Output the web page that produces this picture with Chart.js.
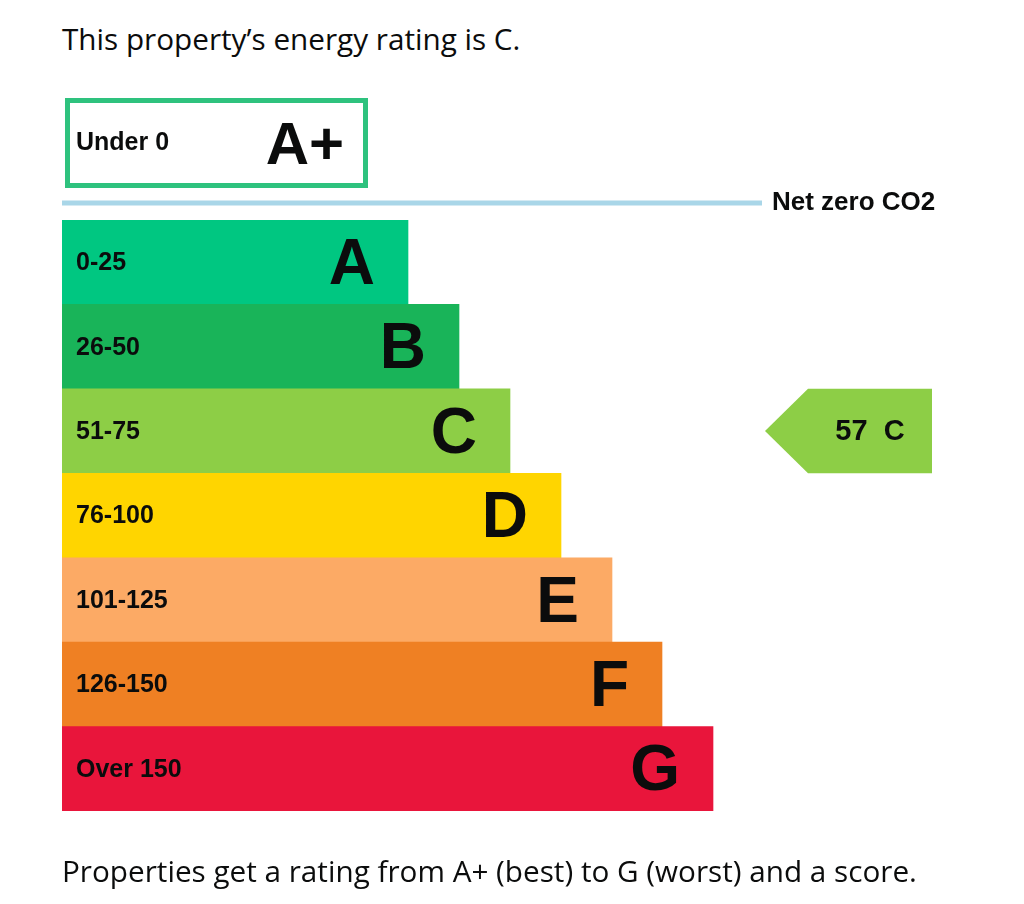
<!DOCTYPE html>
<html>
<head>
<meta charset="utf-8">
<script src="https://cdn.jsdelivr.net/npm/chart.js@4"></script>
<style>
  body { margin: 0; background: #fff; width: 1024px; height: 904px; position: relative; overflow: hidden; }
  .txt { position: absolute; left: 62px; font-family: "Open Sans", sans-serif; font-size: 29.7px; color: #0b0c0c; white-space: nowrap; }
  #chart-wrap { position: absolute; left: 0; top: 0; width: 1024px; height: 904px; }
</style>
</head>
<body>
<div class="txt" style="top:18px;">This property’s energy rating is C.</div>
<div id="chart-wrap"><canvas id="epc"></canvas></div>
<div class="txt" style="top:850px;">Properties get a rating from A+ (best) to G (worst) and a score.</div>
<script>
document.addEventListener('DOMContentLoaded', () => {
    // Bandas y datos
    const bandas = ['A', 'B', 'C', 'D', 'E', 'F', 'G'];
    const rangos = ['0-25', '26-50', '51-75', '76-100', '101-125', '126-150', 'Over 150'];
    const longitudes = [346, 397, 448, 499, 550, 600, 651];
    const colores = ['#00c781', '#19b459', '#8dce46', '#ffd500', '#fcaa65', '#ef8023', '#e9153b'];
    const aPlus = { etiqueta: 'A+', rango: 'Under 0', desde: 3, hasta: 306 };
    const netZero = { etiqueta: 'Net zero CO2', hasta: 700 };
    const actual = { puntos: 57, banda: 'C', desde: 703, hasta: 870 };
    const X_MAX = 870;

    const epcPlugin = {
        id: 'epc',
        afterDatasetsDraw(chart) {
            const { ctx, scales: { x, y }, chartArea } = chart;
            ctx.save();
            const font = (s) => `bold ${s}px "Liberation Sans", Arial, sans-serif`;
            const h = y.getPixelForValue(1) - y.getPixelForValue(0);

            // etiquetas de barras
            ctx.fillStyle = '#0b0c0c';
            bandas.forEach((b, i) => {
                const cy = y.getPixelForValue(i);
                ctx.textBaseline = 'middle';
                ctx.font = font(25);
                ctx.textAlign = 'left';
                ctx.fillText(rangos[i], chartArea.left + 14, cy + 1);
                ctx.font = font(64);
                ctx.textAlign = 'right';
                ctx.fillText(b, x.getPixelForValue(longitudes[i]) - 33, cy + 4);
            });

            // caja A+
            const top = chartArea.top - 122, bh = 90;
            const x0 = x.getPixelForValue(aPlus.desde), x1 = x.getPixelForValue(aPlus.hasta);
            ctx.strokeStyle = '#2ec27e';
            ctx.lineWidth = 5;
            ctx.strokeRect(x0 + 2.5, top + 2.5, x1 - x0 - 5, bh - 5);
            ctx.textBaseline = 'middle';
            ctx.font = font(25);
            ctx.textAlign = 'left';
            ctx.fillText(aPlus.rango, chartArea.left + 14, top + bh / 2);
            ctx.font = font(60);
            ctx.textAlign = 'right';
            ctx.fillText(aPlus.etiqueta, x1 - 24, top + bh / 2 + 4);

            // línea net zero
            const ly = chartArea.top - 17;
            ctx.strokeStyle = '#a9d6e8';
            ctx.lineWidth = 5;
            ctx.beginPath();
            ctx.moveTo(chartArea.left, ly);
            ctx.lineTo(x.getPixelForValue(netZero.hasta), ly);
            ctx.stroke();
            ctx.font = font(26);
            ctx.textAlign = 'left';
            ctx.fillText(netZero.etiqueta, x.getPixelForValue(netZero.hasta) + 10, ly);

            // flecha con la puntuación actual
            const idx = bandas.indexOf(actual.banda);
            const cy = y.getPixelForValue(idx);
            const ax0 = x.getPixelForValue(actual.desde), ax1 = x.getPixelForValue(actual.hasta);
            ctx.fillStyle = colores[idx];
            ctx.beginPath();
            ctx.moveTo(ax0, cy);
            ctx.lineTo(ax0 + 43, cy - h / 2);
            ctx.lineTo(ax1, cy - h / 2);
            ctx.lineTo(ax1, cy + h / 2);
            ctx.lineTo(ax0 + 43, cy + h / 2);
            ctx.closePath();
            ctx.fill();
            ctx.fillStyle = '#0b0c0c';
            ctx.font = font(29);
            ctx.textAlign = 'center';
            ctx.fillText(`${actual.puntos}  ${actual.banda}`, (ax0 + 43 + ax1) / 2, cy + 1);
            ctx.restore();
        }
    };

    new Chart(document.getElementById('epc'), {
        type: 'bar',
        data: {
            labels: bandas,
            datasets: [{ data: longitudes, backgroundColor: colores, categoryPercentage: 1, barPercentage: 1, borderWidth: 0 }]
        },
        options: {
            indexAxis: 'y',
            responsive: true,
            maintainAspectRatio: false,
            animation: false,
            layout: { padding: { top: 220, left: 62, bottom: 93, right: 92 } },
            scales: {
                x: { min: 0, max: X_MAX, display: false },
                y: { display: false }
            },
            plugins: { legend: { display: false }, tooltip: { enabled: false } }
        },
        plugins: [epcPlugin]
    });
});
</script>
</body>
</html>
